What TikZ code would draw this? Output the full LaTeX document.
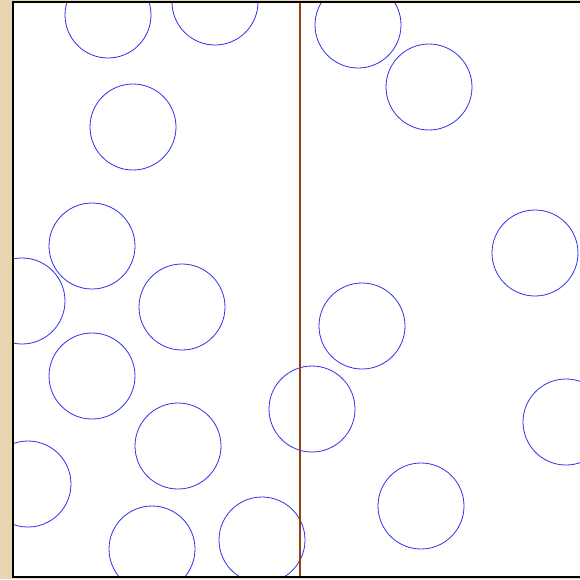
\documentclass[tikz,border=0pt]{standalone}
\definecolor{bgbeige}{RGB}{232,214,178}
\definecolor{ballblue}{RGB}{50,50,235}
\definecolor{wallbrown}{RGB}{150,62,12}
\begin{document}
\begin{tikzpicture}[x=1pt,y=-1pt,
  ball/.style={circle,draw=ballblue,line width=0.8pt,minimum size=86pt,inner sep=0pt}]
\useasboundingbox (0,0) rectangle (580,579);
\fill[bgbeige] (0,0) rectangle (580,579);
\fill[white] (13,2) rectangle (582,577);
\begin{scope}
\clip (13,2) rectangle (582,577);
\node[ball] (b1) at (108,15) {};
\node[ball] (b2) at (215,2) {};
\node[ball] (b3) at (358,25) {};
\node[ball] (b4) at (429,87) {};
\node[ball] (b5) at (133,127) {};
\node[ball] (b6) at (92,246) {};
\node[ball] (b7) at (22,301) {};
\node[ball] (b8) at (182,307) {};
\node[ball] (b9) at (535,253) {};
\node[ball] (b10) at (362,326) {};
\node[ball] (b11) at (92,376) {};
\node[ball] (b12) at (312,409) {};
\node[ball] (b13) at (178,446) {};
\node[ball] (b14) at (566,422) {};
\node[ball] (b15) at (28,484) {};
\node[ball] (b16) at (421,506) {};
\node[ball] (b17) at (152,549) {};
\node[ball] (b18) at (262,540) {};
\end{scope}
\coordinate (wtop) at (300,2);
\coordinate (wbot) at (300,577);
\draw[wallbrown,line width=1.6pt] (wtop) -- (wbot);
\draw[black,line width=1.6pt] (582,2) -- (13,2) -- (13,577) -- (582,577);
\end{tikzpicture}
\end{document}
